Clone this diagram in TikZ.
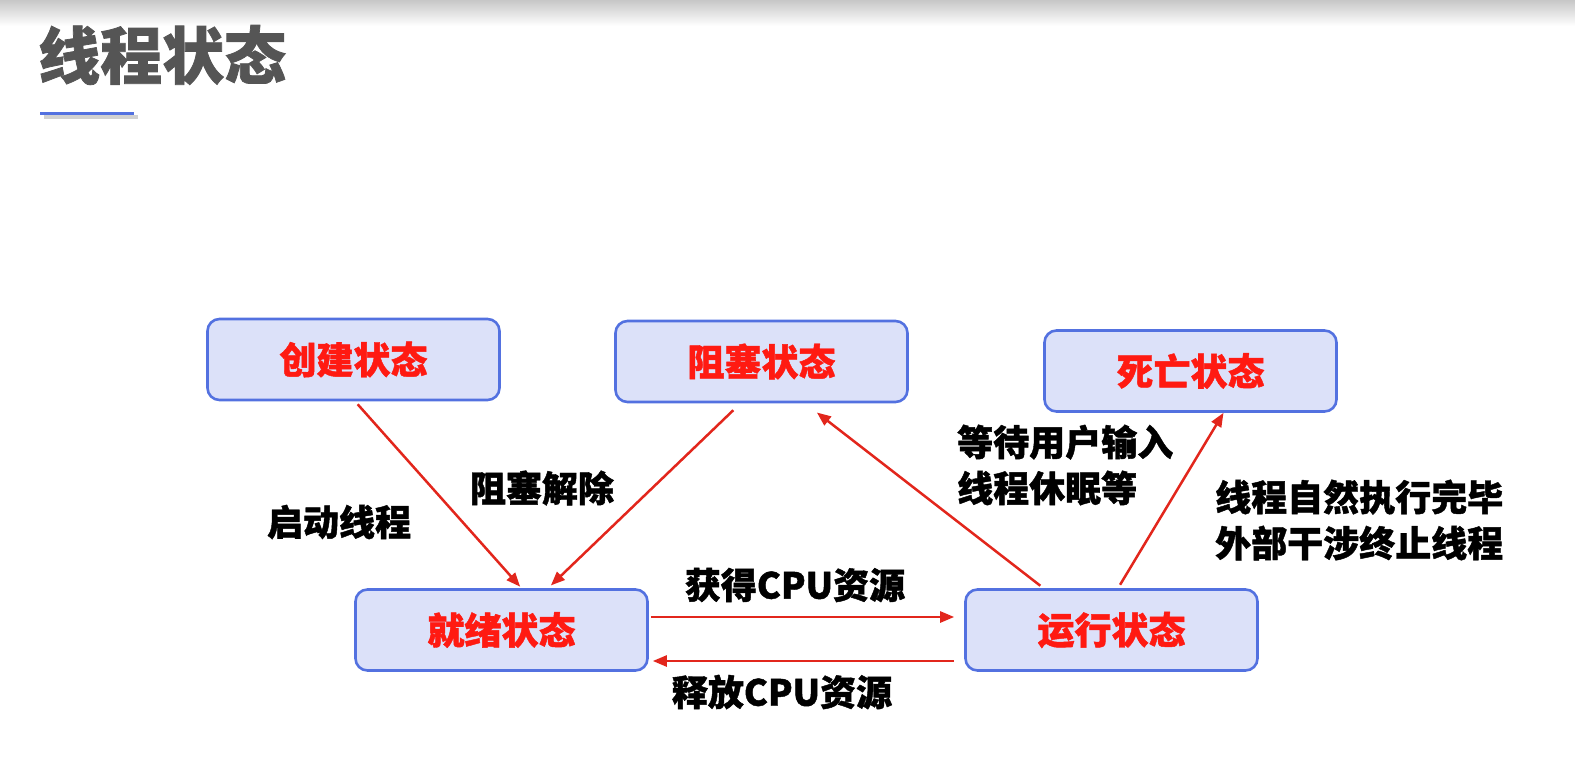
\documentclass[tikz,border=0pt]{standalone}
\usepackage{fontspec}
\newfontfamily\cjk{Noto Sans CJK SC}[BoldFeatures={FakeBold=1.2}]
\usetikzlibrary{arrows.meta}
\definecolor{boxfill}{HTML}{DCE1F9}
\definecolor{boxline}{HTML}{5371E0}
\definecolor{statered}{HTML}{FF1A12}
\definecolor{arrowred}{HTML}{E2261C}
\definecolor{titlegray}{HTML}{555555}
\tikzset{
  state/.style={draw=boxline, line width=2.6pt, fill=boxfill, rounded corners=12pt,
    minimum width=292pt, minimum height=81pt, text=statered,
    font=\cjk\bfseries\fontsize{37}{44}\selectfont},
  trans/.style={draw=arrowred, line width=2.5pt, -{Triangle[length=14pt,width=11pt]}},
  lbl/.style={font=\cjk\bfseries\fontsize{36}{46}\selectfont, align=left, inner sep=0pt}
}
\begin{document}
\begin{tikzpicture}[x=1pt,y=-1pt]
\useasboundingbox (0,0) rectangle (1575,782);
\fill[top color=black!22, bottom color=white] (0,0) rectangle (1575,26);
\node[anchor=west, text=titlegray, font=\cjk\bfseries\fontsize{62}{70}\selectfont, inner sep=0pt] (title) at (38,55) {线程状态};
\draw[black!18, line width=4pt] (44,117) -- (138,117);
\draw[boxline, line width=3pt] (40,113) -- (134,113);
% states
\node[state] (cj) at (353.5,359.5) {创建状态};
\node[state] (zs) at (761.5,361.5) {阻塞状态};
\node[state] (sw) at (1190.5,371) {死亡状态};
\node[state] (jx) at (501.5,630) {就绪状态};
\node[state] (yx) at (1111.5,630) {运行状态};
% transitions
\draw[trans, shorten <=4pt, shorten >=2pt] ([xshift=1.5pt]cj.south) -- ([xshift=20pt]jx.north);
\draw[trans, shorten <=10pt, shorten >=4pt] ([xshift=-21pt]zs.south) -- ([xshift=46.5pt]jx.north);
\draw[trans, shorten <=4pt, shorten >=15pt] ([xshift=-68pt]yx.north) -- ([xshift=43.5pt]zs.south);
\draw[trans, shorten <=4pt, shorten >=0pt] ([xshift=6.5pt]yx.north) -- ([xshift=33pt]sw.south);
\draw[trans, shorten <=2pt, shorten >=10pt] ([yshift=13pt]jx.east) -- ([yshift=13pt]yx.west);
\draw[trans, shorten <=10pt, shorten >=4pt] ([yshift=-31pt]yx.west) -- ([yshift=-31pt]jx.east);
% labels
\node[lbl] (qd) at (339,522) {启动线程};
\node[lbl] (jc) at (542,488) {阻塞解除};
\node[lbl, anchor=west] (dd) at (957,465) {等待用户输入\\线程休眠等};
\node[lbl, anchor=west] (zz) at (1215,520) {线程自然执行完毕\\外部干涉终止线程};
\node[lbl] (hd) at (795,585) {获得CPU资源};
\node[lbl] (sf) at (782,692) {释放CPU资源};
\end{tikzpicture}
\end{document}
